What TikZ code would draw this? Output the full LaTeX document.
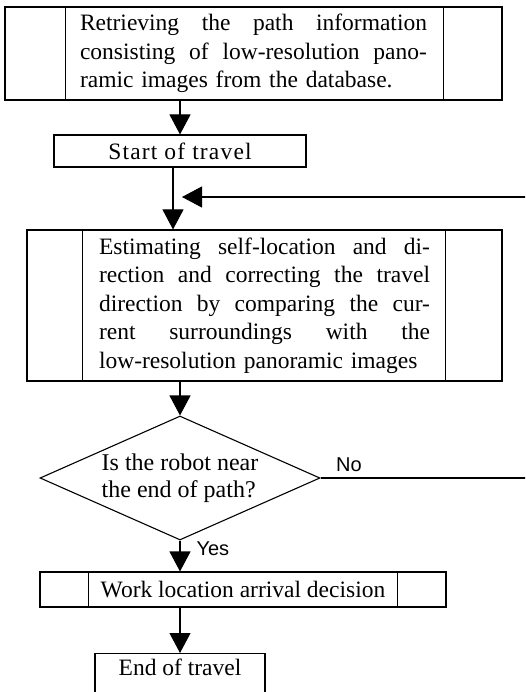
\documentclass[tikz,border=0pt]{standalone}
\usepackage{fontspec}
\setmainfont{Liberation Serif}
\newfontfamily\labelfont{Liberation Sans}
\usetikzlibrary{arrows.meta,shapes.geometric}
\newcommand{\jline}[2]{\makebox[#1][s]{\spaceskip=0pt\xspaceskip=0pt #2}}
\begin{document}
\begin{tikzpicture}[x=1pt,y=-1pt,
  box/.style={draw, line width=1.1pt, inner sep=0pt, font=\fontsize{23.5}{28.5}\selectfont},
  sep/.style={line width=1.1pt},
  arr/.style={line width=1.1pt, -{Triangle[length=20pt,width=21pt]}},
  lbl/.style={font=\labelfont\fontsize{20}{24}\selectfont, inner sep=0pt}]
\useasboundingbox (0,0) rectangle (525,692);
\clip (0,0) rectangle (525,692);

% predefined process: retrieving
\node[box, minimum width=497pt, minimum height=93pt, text width=347pt, align=left] (b1) at (253.5,53.5)
  {\jline{347pt}{Retrieving the path information}\\
   \jline{347pt}{consisting of low-resolution pano-}\\
   ramic images from the database.};
\draw[sep] ([xshift=61pt]b1.north west) -- ([xshift=61pt]b1.south west);
\draw[sep] ([xshift=-59pt]b1.north east) -- ([xshift=-59pt]b1.south east);

% start
\node[box, minimum width=252pt, minimum height=32pt] (st) at (180,151)
  {\addfontfeature{LetterSpace=5}Start of travel};

% estimating
\node[box, minimum width=475pt, minimum height=151pt, text width=331pt, align=left] (b3) at (264.5,305.5)
  {\jline{331pt}{Estimating self-location and di-}\\
   \jline{331pt}{rection and correcting the travel}\\
   \jline{331pt}{direction by comparing the cur-}\\
   \jline{331pt}{rent surroundings with the}\\
   low-resolution panoramic images};
\draw[sep] ([xshift=56pt]b3.north west) -- ([xshift=56pt]b3.south west);
\draw[sep] ([xshift=-57pt]b3.north east) -- ([xshift=-57pt]b3.south east);

% decision
\node[box, shape=diamond, shape aspect=2.26, minimum width=280pt, minimum height=124pt,
      align=left, font=\fontsize{24}{27}\selectfont] (dia) at (180,478)
  {Is the robot near\\the end of path?};

% work location
\node[box, minimum width=406pt, minimum height=35pt] (wk) at (243,589.5) {Work location arrival decision};
\draw[sep] ([xshift=49pt]wk.north west) -- ([xshift=49pt]wk.south west);
\draw[sep] ([xshift=-49pt]wk.north east) -- ([xshift=-49pt]wk.south east);

% end
\node[box, anchor=north, minimum width=170pt, text height=22pt, text depth=25pt, inner ysep=0pt] (en) at (180,653) {End of travel};

% connectors
\coordinate (fbtip) at (182,197);
\coordinate (fbcorner) at (530,197);
\draw[arr] (st.north |- b1.south) -- (st.north);
\draw[arr] ([xshift=-7pt]st.south) -- ([xshift=-7pt]st.south |- b3.north);
\draw[arr] (dia.north |- b3.south) -- (dia.north);
\draw[arr] (dia.south) -- (dia.south |- wk.north)
  node[lbl, pos=0.25, anchor=west, xshift=16pt] {Yes};
\draw[arr] (wk.south -| en.north) -- (en.north);
\draw[arr] (dia.east) -- (dia.east -| fbcorner)
  node[lbl, pos=0, anchor=south west, xshift=15pt, yshift=6pt] {No}
  -- (fbcorner) -- (fbtip);
\end{tikzpicture}
\end{document}
